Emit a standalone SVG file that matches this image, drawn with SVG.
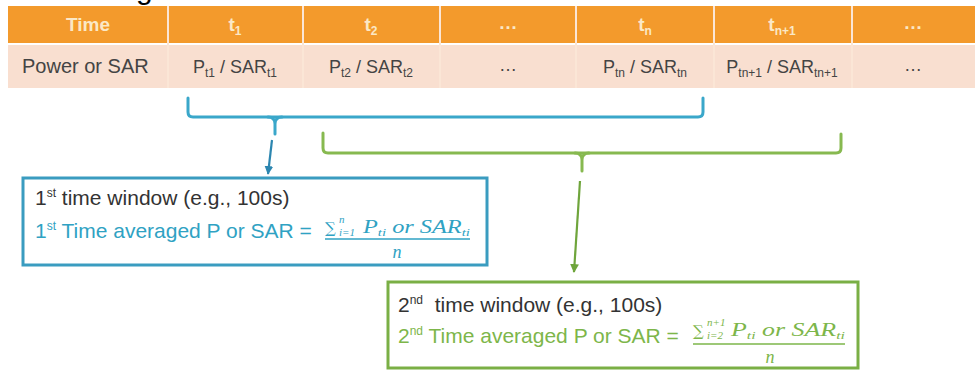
<svg xmlns="http://www.w3.org/2000/svg" width="975" height="370" viewBox="0 0 975 370">
<defs>
<style>
.hdr{fill:#F39A2C}
.row{fill:#F9DFD0}
.div{stroke:#FBE6D6;stroke-width:2}
.ht{font-family:"Liberation Sans",Arial,sans-serif;font-weight:bold;font-size:19px;fill:#FBE8C6;text-anchor:middle}
.dt{font-family:"Liberation Sans",Arial,sans-serif;font-size:18px;fill:#444;text-anchor:middle}
.bt{font-family:"Liberation Sans",Arial,sans-serif;font-size:21px}
.blk{fill:#333}
.blu{fill:#2FA2C3}
.grn{fill:#7DB64A}
.mth{font-family:"Liberation Serif","Times New Roman",serif;font-style:italic;font-size:18px}
.sig{font-family:"DejaVu Serif","Liberation Serif",serif;font-size:15px}
.lim{font-family:"Liberation Serif","Times New Roman",serif;font-style:italic;font-size:11px}
.bbr{fill:none;stroke:#3AA7CA;stroke-width:3;stroke-linecap:round;stroke-linejoin:round}
.gbr{fill:none;stroke:#87B950;stroke-width:3;stroke-linecap:round;stroke-linejoin:round}
</style>
<marker id="ab" viewBox="0 0 10 10" refX="9" refY="5" markerWidth="4" markerHeight="4" orient="auto"><path d="M0,0 L10,5 L0,10 z" fill="#2C86B0"/></marker>
<marker id="ag" viewBox="0 0 10 10" refX="9" refY="5" markerWidth="4" markerHeight="4" orient="auto"><path d="M0,0 L10,5 L0,10 z" fill="#6FA53C"/></marker>
</defs>
<rect width="975" height="370" fill="#fff"/>
<text x="136" y="-1" font-family="Liberation Sans,Arial,sans-serif" font-size="30" fill="#000">g</text>

<g id="table">
<rect class="hdr" x="8" y="6" width="967" height="37"/>
<rect class="row" x="8" y="45" width="967" height="43"/>
<g class="div">
<line x1="168" y1="6" x2="168" y2="88"/>
<line x1="303" y1="6" x2="303" y2="88"/>
<line x1="440" y1="6" x2="440" y2="88"/>
<line x1="576" y1="6" x2="576" y2="88"/>
<line x1="714" y1="6" x2="714" y2="88"/>
<line x1="852" y1="6" x2="852" y2="88"/>
</g>
<text class="ht" x="88" y="31">Time</text>
<text class="ht" x="235" y="31">t<tspan font-size="12" dy="4">1</tspan></text>
<text class="ht" x="371" y="31">t<tspan font-size="12" dy="4">2</tspan></text>
<text class="ht" x="508" y="29" font-size="12">…</text>
<text class="ht" x="645" y="31">t<tspan font-size="12" dy="4">n</tspan></text>
<text class="ht" x="782" y="31">t<tspan font-size="12" dy="4">n+1</tspan></text>
<text class="ht" x="913" y="29" font-size="12">…</text>
<text class="dt" x="22" y="73" style="text-anchor:start;font-size:20px">Power or SAR</text>
<text class="dt" x="235" y="73">P<tspan font-size="12" dy="4">t1</tspan><tspan dy="-4"> / SAR</tspan><tspan font-size="12" dy="4">t1</tspan></text>
<text class="dt" x="371" y="73">P<tspan font-size="12" dy="4">t2</tspan><tspan dy="-4"> / SAR</tspan><tspan font-size="12" dy="4">t2</tspan></text>
<text class="dt" x="508" y="71" font-size="12">…</text>
<text class="dt" x="645" y="73">P<tspan font-size="12" dy="4">tn</tspan><tspan dy="-4"> / SAR</tspan><tspan font-size="12" dy="4">tn</tspan></text>
<text class="dt" x="782" y="73">P<tspan font-size="12" dy="4">tn+1</tspan><tspan dy="-4"> / SAR</tspan><tspan font-size="12" dy="4">tn+1</tspan></text>
<text class="dt" x="913" y="71" font-size="12">…</text>
</g>

<g id="connectors">
<path class="bbr" d="M188,98 V112 Q188,117 193,117 H698 Q703,117 703,112 V98"/>
<path class="bbr" d="M268,117 Q275,117 275,124 V134 M282,117 Q275,117 275,124"/>
<line x1="272" y1="140" x2="268" y2="174" stroke="#2C86B0" stroke-width="2.2" marker-end="url(#ab)"/>
<path class="gbr" d="M323,133 V148 Q323,153 328,153 H836 Q841,153 841,148 V134"/>
<path class="gbr" d="M575,153 Q582,153 582,160 V171 M589,153 Q582,153 582,160"/>
<line x1="580" y1="181" x2="574" y2="272" stroke="#6FA53C" stroke-width="2.2" marker-end="url(#ag)"/>
</g>

<g id="window1">
<rect x="23" y="178" width="464" height="87" fill="#fff" stroke="#3A9CC0" stroke-width="3"/>
<text class="bt blk" x="35" y="205">1<tspan font-size="12" dy="-8">st</tspan><tspan dy="8"> time window (e.g., 100s)</tspan></text>
<text class="bt blu" x="35" y="238">1<tspan font-size="12" dy="-8">st</tspan><tspan dy="8"> Time averaged P or SAR =</tspan></text>
<text class="sig blu" x="325" y="233">∑</text>
<text class="lim blu" x="339" y="223">n</text>
<text class="lim blu" x="339" y="236">i=1</text>
<text class="mth blu" x="363" y="233" textLength="107" lengthAdjust="spacingAndGlyphs">P<tspan font-size="11" dy="3">ti</tspan><tspan dy="-3"> or SAR</tspan><tspan font-size="11" dy="3">ti</tspan></text>
<line x1="325" y1="239" x2="470" y2="239" stroke="#2FA2C3" stroke-width="1.3"/>
<text class="mth blu" x="397" y="258" text-anchor="middle">n</text>
</g>

<g id="window2">
<rect x="388" y="282" width="470" height="86" fill="#fff" stroke="#7AAF45" stroke-width="3"/>
<text class="bt blk" x="398" y="312">2<tspan font-size="12" dy="-8">nd</tspan><tspan dy="8">&#160; time window (e.g., 100s)</tspan></text>
<text class="bt grn" x="398" y="343">2<tspan font-size="12" dy="-8">nd</tspan><tspan dy="8"> Time averaged P or SAR =</tspan></text>
<text class="sig grn" x="693" y="336">∑</text>
<text class="lim grn" x="707" y="326">n+1</text>
<text class="lim grn" x="707" y="339">i=2</text>
<text class="mth grn" x="731" y="336" textLength="114" lengthAdjust="spacingAndGlyphs">P<tspan font-size="11" dy="3">ti</tspan><tspan dy="-3"> or SAR</tspan><tspan font-size="11" dy="3">ti</tspan></text>
<line x1="693" y1="344" x2="845" y2="344" stroke="#7DB64A" stroke-width="1.3"/>
<text class="mth grn" x="770" y="363" text-anchor="middle">n</text>
</g>
</svg>
